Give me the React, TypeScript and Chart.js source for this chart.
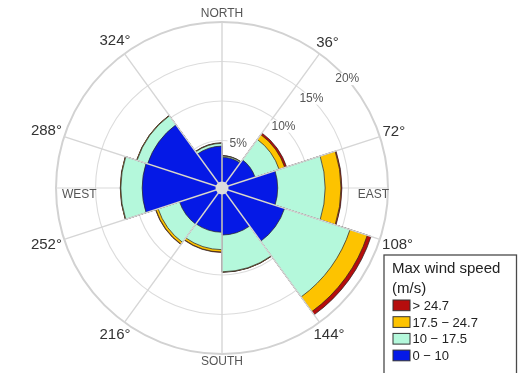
import React, { useEffect, useRef } from 'react';
import { Chart, registerables } from 'chart.js';

Chart.register(...registerables);

// ---- data ----
const directionLabels = ['NORTH', '36°', '72°', '108°', '144°', 'SOUTH', '216°', '252°', '288°', '324°'];
const extraCardinals = ['EAST', 'WEST'];
const binLabels = ['0 − 10', '10 − 17.5', '17.5 − 24.7', '> 24.7'];
const binColors = ['#0519e6', '#b4f8db', '#fdc300', '#b50d0d'];
const speed0to10 = [2.9, 3.4, 6.05, 7.33, 4.95, 4.6, 4.65, 9.1, 8.9, 4.3];
const speed10to17 = [0.15, 3.2, 6.0, 8.7, 4.65, 2.2, 2.85, 2.7, 1.4, 0.35];
const speed17to25 = [0.03, 0.75, 2.0, 2.3, 0.05, 0.3, 0.3, 0.05, 0.05, 0.05];
const speedOver25 = [0.02, 0.25, 0.12, 0.5, 0.02, 0.05, 0.05, 0.02, 0.02, 0.02];
const radialTicks = [5, 10, 15, 20];
const radialTickLabels = ['5%', '10%', '15%', '20%'];
const legendTitle = ['Max wind speed', '(m/s)'];

const FONT = '"Liberation Sans", Arial, Helvetica, sans-serif';

const series = [speed0to10, speed10to17, speed17to25, speedOver25];
const cumulative = series.map((_, k) =>
  directionLabels.map((__, i) => series.slice(0, k + 1).reduce((s, arr) => s + arr[i], 0))
);

const tickLabelAngles = [20, 45, 45, 49];

const windRosePlugin = {
  id: 'windRose',
  beforeDatasetsDraw(chart: any) {
    const s = chart.scales.r;
    const ctx = chart.ctx;
    ctx.save();
    ctx.strokeStyle = '#d9d9d9';
    ctx.lineWidth = 1.2;
    [2.5, 7.5].forEach((idx) => {
      const p = s.getPointPosition(idx, s.drawingArea);
      ctx.beginPath();
      ctx.moveTo(s.xCenter, s.yCenter);
      ctx.lineTo(p.x, p.y);
      ctx.stroke();
    });
    ctx.restore();
  },
  afterDatasetsDraw(chart: any) {
    const s = chart.scales.r;
    const ctx = chart.ctx;
    const R = s.drawingArea;
    const n = chart.data.labels.length;
    ctx.save();
    // spokes
    ctx.strokeStyle = '#d6d6d6';
    ctx.lineWidth = 1.4;
    for (let i = 0; i < n; i++) {
      const p = s.getPointPosition(i, R);
      ctx.beginPath();
      ctx.moveTo(s.xCenter, s.yCenter);
      ctx.lineTo(p.x, p.y);
      ctx.stroke();
    }
    // center dot
    ctx.fillStyle = '#dcdcdc';
    ctx.beginPath();
    ctx.arc(s.xCenter, s.yCenter, 6.5, 0, Math.PI * 2);
    ctx.fill();

    // direction labels
    ctx.textAlign = 'center';
    ctx.textBaseline = 'middle';
    for (let i = 0; i < n; i++) {
      const text = chart.data.labels[i] as string;
      const cardinal = /^[A-Z]/.test(text);
      ctx.font = (cardinal ? '12px ' : '15px ') + FONT;
      ctx.fillStyle = cardinal ? '#555' : '#333';
      const w = ctx.measureText(text).width;
      const a = s.getIndexAngle(i);
      const h = 12;
      const dist = R + 2 + Math.abs(Math.sin(a)) * w / 2 + Math.abs(Math.cos(a)) * h / 2;
      const p = s.getPointPosition(i, dist);
      ctx.fillText(text, p.x, p.y);
    }
    // EAST / WEST
    ctx.font = '12px ' + FONT;
    ctx.fillStyle = '#555';
    const pe = s.getPointPosition(2.5, R);
    ctx.textAlign = 'right';
    ctx.fillText(extraCardinals[0], pe.x + 1, pe.y + 7);
    const pw = s.getPointPosition(7.5, R);
    ctx.textAlign = 'left';
    ctx.fillText(extraCardinals[1], pw.x + 6, pw.y + 7);

    // radial tick labels
    ctx.font = '12px ' + FONT;
    ctx.textAlign = 'center';
    radialTicks.forEach((v, k) => {
      const d = s.getDistanceFromCenterForValue(v);
      const a = (tickLabelAngles[k] * Math.PI) / 180;
      const x = s.xCenter + Math.sin(a) * d;
      const y = s.yCenter - Math.cos(a) * d;
      const t = radialTickLabels[k];
      const w = ctx.measureText(t).width;
      ctx.fillStyle = '#ffffff';
      ctx.fillRect(x - w / 2 - 2, y - 6, w + 4, 12);
      ctx.fillStyle = '#555';
      ctx.fillText(t, x, y);
    });
    ctx.restore();
  },
  afterDraw(chart: any) {
    const ctx = chart.ctx;
    const ds = chart.data.datasets;
    ctx.save();
    const bx = 384, by = 255, bw = 132.5, bh = 140;
    ctx.fillStyle = '#ffffff';
    ctx.fillRect(bx, by, bw, bh);
    ctx.strokeStyle = '#4a4a4a';
    ctx.lineWidth = 1.3;
    ctx.strokeRect(bx, by, bw, bh);
    ctx.fillStyle = '#222';
    ctx.textAlign = 'left';
    ctx.textBaseline = 'alphabetic';
    ctx.font = '15px ' + FONT;
    ctx.fillText(legendTitle[0], bx + 8, by + 17.5);
    ctx.fillText(legendTitle[1], bx + 8, by + 38);
    ctx.font = '13px ' + FONT;
    for (let j = 0; j < ds.length; j++) {
      const k = ds.length - 1 - j;
      const top = 300 + j * 16.7;
      ctx.fillStyle = ds[k].backgroundColor;
      ctx.fillRect(bx + 9, top, 17, 10.7);
      ctx.strokeStyle = '#333';
      ctx.lineWidth = 1;
      ctx.strokeRect(bx + 9, top, 17, 10.7);
      ctx.fillStyle = '#222';
      ctx.fillText(ds[k].label, bx + 28.5, top + 10);
    }
    ctx.restore();
  },
};

export default function App() {
  const ref = useRef<HTMLCanvasElement>(null);
  useEffect(() => {
    const chart = new Chart(ref.current as HTMLCanvasElement, {
      type: 'polarArea',
      data: {
        labels: directionLabels,
        datasets: cumulative.map((data, k) => ({
          label: binLabels[k],
          data,
          backgroundColor: binColors[k],
          borderColor: 'rgba(45,35,35,0.9)',
          borderWidth: 0.8,
        })),
      },
      options: {
        responsive: false,
        devicePixelRatio: 1,
        animation: false,
        layout: { padding: { left: 56, top: 22, right: 138, bottom: 19 } },
        plugins: {
          legend: { display: false },
          tooltip: { enabled: false },
        },
        scales: {
          r: {
            min: -1,
            max: 20,
            startAngle: 0,
            afterBuildTicks: (axis: any) => {
              axis.ticks = radialTicks.map((v) => ({ value: v }));
            },
            ticks: { display: false },
            pointLabels: { display: false },
            angleLines: { display: false },
            grid: {
              circular: true,
              color: (c: any) => (c.tick && c.tick.value === 20 ? '#d2d2d2' : '#dcdcdc'),
              lineWidth: (c: any) => (c.tick && c.tick.value === 20 ? 2 : 1.1),
            },
          },
        },
      },
      plugins: [windRosePlugin],
    } as any);
    return () => chart.destroy();
  }, []);
  return (
    <div style={{ position: 'fixed', left: 0, top: 0, width: 526, height: 373, overflow: 'hidden', background: '#fff' }}>
      <canvas ref={ref} width={526} height={373} style={{ display: 'block', width: 526, height: 373 }} />
    </div>
  );
}
